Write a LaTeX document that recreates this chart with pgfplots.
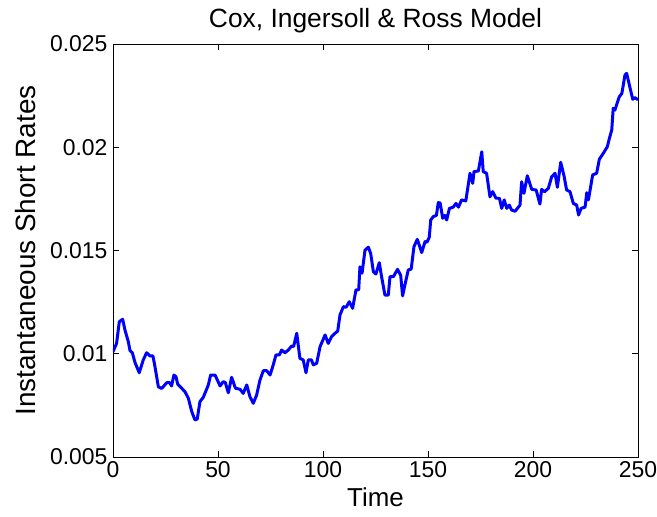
\documentclass[border=0pt]{standalone}
\usepackage{pgfplots}
\pgfplotsset{compat=1.18}
\usepackage{fontspec}
\setmainfont{Liberation Sans}
\begin{document}
\begin{tikzpicture}
\begin{axis}[
  scale only axis,
  width=525bp, height=413bp,
  xmin=0, xmax=250, ymin=0.005, ymax=0.025,
  xtick={0,50,100,150,200,250},
  ytick={0.005,0.01,0.015,0.02,0.025},
  scaled y ticks=false,
  tick align=inside,
  major tick length=6bp,
  axis line style={line width=0.8pt},
  every tick/.style={line width=0.8pt, black},
  /pgf/number format/assume math mode=true,
  yticklabel style={/pgf/number format/fixed, /pgf/number format/precision=3, xshift=-2bp},
  xticklabel style={yshift=-1bp},
  tick label style={font=\fontsize{23}{25}\selectfont},
  xlabel style={font=\fontsize{26}{28}\selectfont, yshift=-3bp},
  ylabel style={font=\fontsize{28}{30}\selectfont, yshift=8bp},
  title style={font=\fontsize{26.5}{28}\selectfont, yshift=2bp},
  title={Cox, Ingersoll \& Ross Model},
  xlabel={Time},
  ylabel={Instantaneous Short Rates},
]
\addplot[color={rgb,255:red,0;green,0;blue,255}, line width=3pt, line join=round] table {
x y
0 0.0101
1.7 0.0105
3 0.01155
4.6 0.01167
5.7 0.01115
7.3 0.01058
8.1 0.01015
9.2 0.01005
10.5 0.00957
12.5 0.00908
14.4 0.0097
16 0.01005
17.6 0.00989
19 0.0099
20 0.00937
21.6 0.0084
23.2 0.00832
25.6 0.0086
27 0.0086
27.9 0.00844
29 0.00897
30 0.00889
30.8 0.00853
34.3 0.00816
35.9 0.00784
37.5 0.0072
39 0.0068
40.1 0.00683
41.4 0.00768
43 0.00789
45.4 0.00849
46.5 0.00897
48.6 0.00897
51 0.00844
52.5 0.00865
53.5 0.0086
54.9 0.00811
56.5 0.00886
58.3 0.00833
60.5 0.00828
62 0.00808
63.7 0.00849
65.2 0.00792
66.8 0.0076
68.4 0.0080
70 0.00873
71.6 0.00918
73.2 0.00918
74.8 0.00897
76.3 0.00946
77.6 0.00994
79.2 0.00994
80.3 0.01018
81.9 0.01005
83.5 0.01018
85 0.01037
86 0.01035
87.5 0.01099
89 0.00978
90.6 0.0097
91.9 0.00908
93 0.0097
94.5 0.0097
95.4 0.00946
97 0.00954
98.6 0.01034
101 0.01091
102.5 0.0105
104.1 0.01083
105.7 0.01099
107 0.0111
108.1 0.01188
109.7 0.01228
111 0.01225
112.5 0.01252
114.1 0.0122
115.7 0.01309
117 0.0131
117.6 0.01421
118.6 0.0139
120 0.01502
121.6 0.01516
122.7 0.01486
124 0.01397
125.2 0.01386
126.8 0.01441
127.9 0.01373
129.5 0.01284
131.1 0.01284
131.9 0.01373
133.5 0.01373
135.5 0.01409
137 0.0138
137.9 0.0128
139 0.01333
140.6 0.01406
142 0.0141
143.3 0.01518
144.9 0.01554
147 0.0149
148.6 0.01543
149.5 0.0154
150.6 0.01564
151.3 0.01648
152.5 0.01664
154 0.0167
154.9 0.01732
155.8 0.0173
157 0.01656
158 0.0167
158.9 0.01648
160.2 0.01704
162 0.0171
163.3 0.01728
164.5 0.0171
166 0.01745
168 0.0174
170 0.01874
171.3 0.01825
171.9 0.01882
174 0.01885
175.6 0.01978
176.3 0.01882
177.9 0.01874
179.5 0.0176
180.8 0.01785
182.4 0.01753
184 0.01753
185.1 0.01704
186.3 0.01745
187.5 0.01704
188.7 0.0172
189.8 0.01696
191.5 0.0169
193.8 0.0172
194.6 0.01833
195.7 0.01777
197.3 0.01862
199.4 0.01796
201.5 0.01793
203.3 0.01725
204.1 0.01796
205.5 0.01785
207.3 0.01801
208.9 0.01857
210.5 0.01874
211.6 0.01806
213.2 0.01927
214.8 0.0186
216 0.01793
217.6 0.01785
219.2 0.01728
220.8 0.0172
221.7 0.01672
222.9 0.01704
224.8 0.0171
225.6 0.0178
226.4 0.01745
228.4 0.01866
230.3 0.01874
231.6 0.01942
233.5 0.01971
235.4 0.02003
236.3 0.0204
237.5 0.02084
238.2 0.02189
239 0.0218
241.1 0.02245
242.3 0.0226
243.8 0.0235
244.6 0.02358
245.9 0.02301
247.5 0.02232
248.5 0.0224
250 0.0223
};
\end{axis}
\pgfresetboundingbox
\path (current axis.south west) ++(-113bp,-60bp) rectangle ++(657bp,517bp);
\end{tikzpicture}
\end{document}
